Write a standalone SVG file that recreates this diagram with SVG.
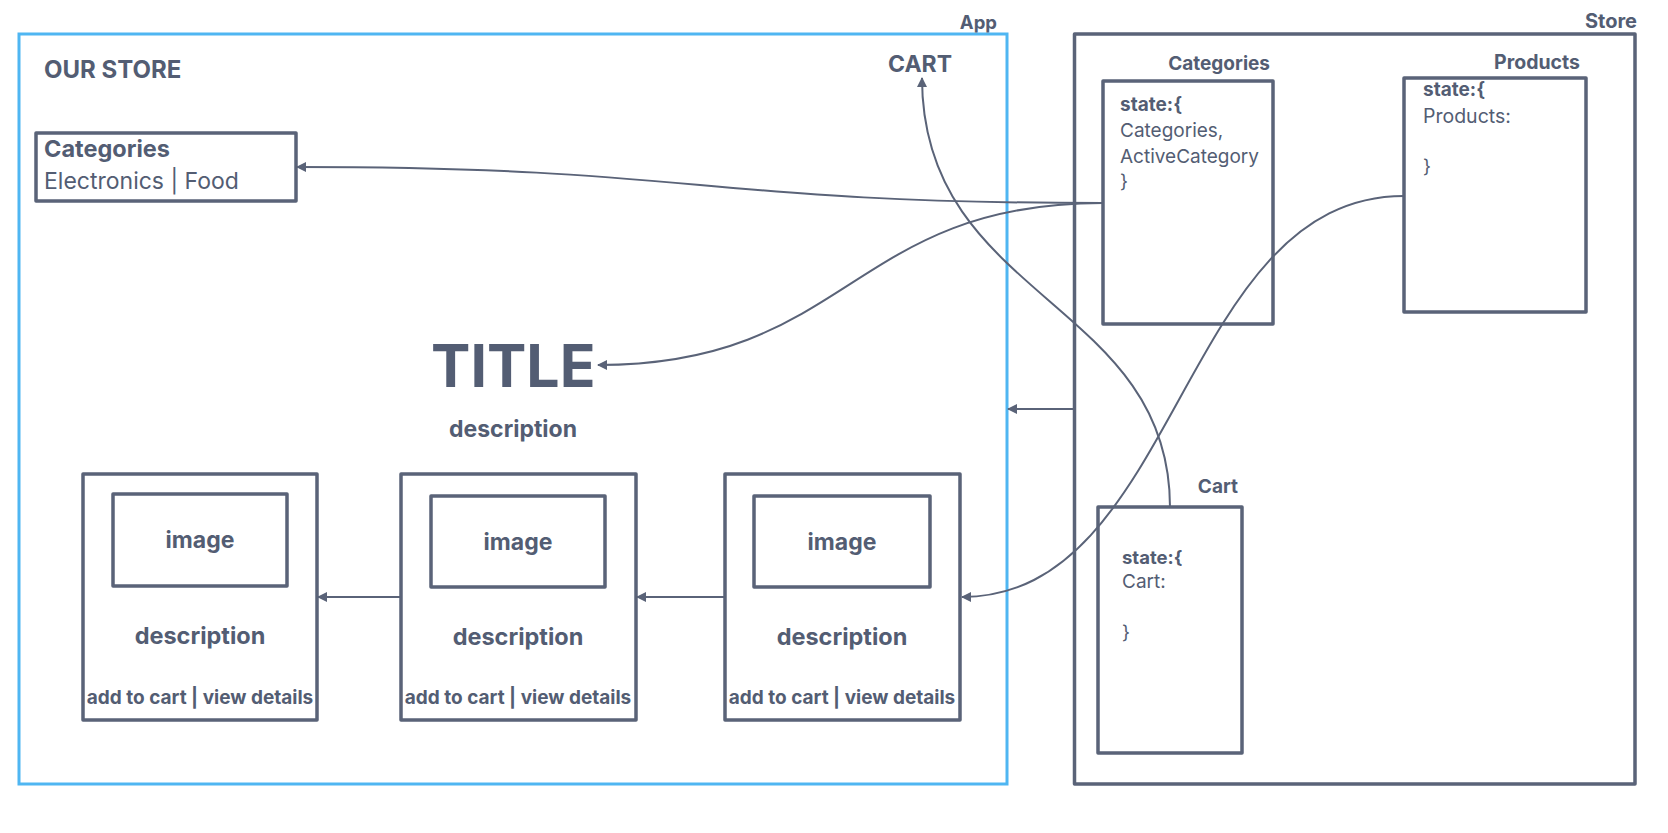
<svg xmlns="http://www.w3.org/2000/svg" width="1668" height="833" viewBox="0 0 1668 833">
<defs>
<marker id="arr" viewBox="0 0 10 10" refX="9" refY="5" markerWidth="10" markerHeight="10" markerUnits="userSpaceOnUse" orient="auto">
<path d="M0,0 L10,5 L0,10 z" fill="#5a6378"/>
</marker>
</defs>
<style>
.box{fill:none;stroke:#5a6378;stroke-width:3.5;stroke-linejoin:round}
.app{fill:none;stroke:#4fb6f2;stroke-width:3}
.con{fill:none;stroke:#5a6378;stroke-width:2;marker-end:url(#arr)}
text{font-family:Inter,"Liberation Sans",sans-serif;fill:#535d73}
.b{font-weight:700}
.r{font-weight:400}
.m{text-anchor:middle}
.e{text-anchor:end}
</style>
<rect width="1668" height="833" fill="#ffffff"/>

<g id="app">
<rect class="app" x="19" y="34" width="988" height="750"/>
<text class="b e" x="997" y="29" font-size="18.5">App</text>
<text class="b" x="44" y="78" font-size="24">OUR STORE</text>
<text class="b" x="888" y="72" font-size="23">CART</text>
<text class="b" x="431" y="387" font-size="59">TITLE</text>
<text class="b m" x="513" y="437" font-size="23">description</text>
</g>

<g id="categories-menu">
<rect class="box" x="36" y="133" width="260" height="68"/>
<text class="b" x="44" y="157" font-size="23.5">Categories</text>
<text class="r" x="44" y="189" font-size="23">Electronics | Food</text>
</g>

<g id="card1">
<rect class="box" x="83" y="474" width="234" height="246"/>
<rect class="box" x="113" y="494" width="174" height="92"/>
<text class="b m" x="200" y="548" font-size="23">image</text>
<text class="b m" x="200" y="644" font-size="23.5">description</text>
<text class="b m" x="200" y="704" font-size="19">add to cart | view details</text>
</g>
<g id="card2">
<rect class="box" x="401" y="474" width="235" height="246"/>
<rect class="box" x="431" y="496" width="174" height="91"/>
<text class="b m" x="518" y="550" font-size="23">image</text>
<text class="b m" x="518" y="645" font-size="23.5">description</text>
<text class="b m" x="518" y="704" font-size="19">add to cart | view details</text>
</g>
<g id="card3">
<rect class="box" x="725" y="474" width="235" height="246"/>
<rect class="box" x="754" y="496" width="176" height="91"/>
<text class="b m" x="842" y="550" font-size="23">image</text>
<text class="b m" x="842" y="645" font-size="23.5">description</text>
<text class="b m" x="842" y="704" font-size="19">add to cart | view details</text>
</g>

<g id="store">
<rect class="box" x="1074.5" y="34" width="560.5" height="750"/>
<text class="b e" x="1637" y="28" font-size="20">Store</text>
</g>

<g id="store-categories">
<text class="b e" x="1270" y="70" font-size="19">Categories</text>
<rect class="box" x="1103" y="81" width="170" height="243" stroke-width="4"/>
<text class="b" x="1120" y="111" font-size="19">state:{</text>
<text class="r" x="1120" y="137" font-size="19">Categories,</text>
<text class="r" x="1120" y="163" font-size="19">ActiveCategory</text>
<text class="r" x="1120" y="188" font-size="19">}</text>
</g>

<g id="store-products">
<text class="b e" x="1580" y="69" font-size="19.5">Products</text>
<rect class="box" x="1404" y="78" width="182" height="234"/>
<text class="b" x="1423" y="96" font-size="19">state:{</text>
<text class="r" x="1423" y="123" font-size="19.5">Products:</text>
<text class="r" x="1423" y="173" font-size="19">}</text>
</g>

<g id="store-cart">
<text class="b e" x="1238" y="493" font-size="19">Cart</text>
<rect class="box" x="1098" y="507" width="144" height="246"/>
<text class="b" x="1122" y="564" font-size="18.5">state:{</text>
<text class="r" x="1122" y="588" font-size="19">Cart:</text>
<text class="r" x="1122" y="639" font-size="19">}</text>
</g>

<g id="connectors">
<path class="con" d="M1103,203 C700,203 700,167 297,167"/>
<path class="con" d="M1103,203 C850,203 850,365 598,365"/>
<path class="con" d="M1170,507 C1170,300 922,300 922,78"/>
<path class="con" d="M1404,196 C1180,196 1180,597 962,597"/>
<path class="con" d="M1074,409 L1008,409"/>
<path class="con" d="M725,597 L637,597"/>
<path class="con" d="M401,597 L318,597"/>
</g>
</svg>
